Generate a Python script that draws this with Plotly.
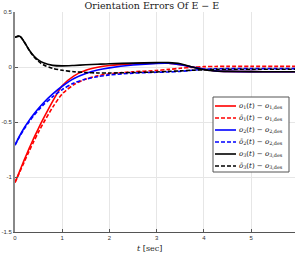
import plotly.graph_objects as go

t = [0, 0.1, 0.2, 0.3, 0.4, 0.5, 0.6, 0.8, 1.0, 1.25, 1.5, 1.75, 2.0, 2.5, 3.0, 3.25, 3.5, 3.75, 4.0, 4.25, 4.5, 5.0, 5.5, 6.0]

o1 = [-1.05, -0.945, -0.84, -0.74, -0.645, -0.555, -0.47, -0.31, -0.17, -0.08, -0.03, -0.003, 0.013, 0.028, 0.035, 0.034, 0.02, 0.0, -0.02, -0.035, -0.04, -0.042, -0.043, -0.043]
o1b = [-1.05, -0.955, -0.86, -0.765, -0.675, -0.59, -0.51, -0.365, -0.245, -0.16, -0.11, -0.08, -0.062, -0.044, -0.032, -0.022, -0.012, -0.003, 0.003, 0.005, 0.006, 0.006, 0.006, 0.006]
o2 = [-0.71, -0.625, -0.55, -0.485, -0.428, -0.375, -0.327, -0.245, -0.175, -0.105, -0.06, -0.028, -0.008, 0.018, 0.033, 0.034, 0.02, 0.0, -0.02, -0.035, -0.04, -0.042, -0.043, -0.043]
o2b = [-0.71, -0.63, -0.56, -0.497, -0.44, -0.39, -0.345, -0.27, -0.205, -0.145, -0.11, -0.088, -0.072, -0.056, -0.048, -0.045, -0.04, -0.03, -0.02, -0.016, -0.015, -0.015, -0.015, -0.015]
o3 = [0.27, 0.28, 0.225, 0.155, 0.10, 0.062, 0.038, 0.015, 0.01, 0.014, 0.02, 0.025, 0.03, 0.035, 0.04, 0.04, 0.03, 0.0, -0.025, -0.037, -0.04, -0.042, -0.043, -0.043]
o3b = [0.27, 0.28, 0.225, 0.152, 0.093, 0.05, 0.02, -0.012, -0.03, -0.043, -0.05, -0.054, -0.055, -0.05, -0.045, -0.04, -0.035, -0.03, -0.025, -0.021, -0.02, -0.02, -0.02, -0.02]

names = [
    "<i>o</i><sub>1</sub>(<i>t</i>) − <i>o</i><sub>1,des</sub>",
    "<i>ō</i><sub>1</sub>(<i>t</i>) − <i>o</i><sub>1,des</sub>",
    "<i>o</i><sub>2</sub>(<i>t</i>) − <i>o</i><sub>2,des</sub>",
    "<i>ō</i><sub>2</sub>(<i>t</i>) − <i>o</i><sub>2,des</sub>",
    "<i>o</i><sub>3</sub>(<i>t</i>) − <i>o</i><sub>3,des</sub>",
    "<i>ō</i><sub>3</sub>(<i>t</i>) − <i>o</i><sub>3,des</sub>",
]
series = [o1, o1b, o2, o2b, o3, o3b]
colors = ["#ff0000", "#ff0000", "#0000ff", "#0000ff", "#000000", "#000000"]
dashes = ["solid", "4px,2px", "solid", "4px,2px", "solid", "4px,2px"]

W, H = 295, 255
ML, MR, MT, MB = 15, 0, 12, 23
PW, PH = W - ML - MR, H - MT - MB

def px_x(p):
    return (p - ML) / PW

def px_y(p):
    return (H - MB - p) / PH

fig = go.Figure()
for y, n, c, d in zip(series, names, colors, dashes):
    fig.add_trace(go.Scatter(x=t, y=y, name=n, mode="lines", showlegend=False,
                             line=dict(color=c, dash=d, width=1.6, shape="spline", smoothing=0.8)))

# custom compact legend (box, line samples, labels)
shapes = [dict(type="rect", xref="paper", yref="paper",
               x0=px_x(213), x1=px_x(289), y0=px_y(172), y1=px_y(97),
               line=dict(color="#555", width=1), fillcolor="white", layer="above")]
annotations = []
row_y = [106, 118, 130, 142, 154, 166]
for ry, n, c, d in zip(row_y, names, colors, dashes):
    shapes.append(dict(type="line", xref="paper", yref="paper",
                       x0=px_x(215), x1=px_x(236), y0=px_y(ry), y1=px_y(ry),
                       line=dict(color=c, width=1.6, dash=d), layer="above"))
    annotations.append(dict(text=n, xref="paper", yref="paper",
                            x=px_x(237), y=px_y(ry), xanchor="left", yanchor="middle",
                            showarrow=False,
                            font=dict(family="DejaVu Serif", size=7, color="#111")))

annotations.append(dict(text="<i>t</i> [sec]", xref="paper", yref="paper",
                        x=0.48, y=px_y(248), xanchor="center", yanchor="middle",
                        showarrow=False,
                        font=dict(family="DejaVu Serif", size=8, color="#222")))

fig.update_layout(
    width=W, height=H,
    margin=dict(l=ML, r=MR, t=MT, b=MB),
    paper_bgcolor="white", plot_bgcolor="white",
    title=dict(text="Orientation Errors Of E − E", x=0.515, xanchor="center",
               y=0.99, yanchor="top",
               font=dict(family="DejaVu Serif", size=9.5, color="#222")),
    font=dict(family="Liberation Sans", size=6, color="#333"),
    showlegend=False,
    shapes=shapes,
    annotations=annotations,
)
fig.update_xaxes(range=[0, 5.93], tickvals=[0, 1, 2, 3, 4, 5],
                 showgrid=True, gridcolor="#e6e6e6", gridwidth=1,
                 showline=True, linecolor="#555", linewidth=1.2,
                 ticks="inside", ticklen=3, tickcolor="#555",
                 zeroline=False, automargin=False)
fig.update_yaxes(range=[-1.5, 0.5], tickvals=[-1.5, -1, -0.5, 0, 0.5],
                 ticktext=["-1.5", "-1", "-0.5", "0", "0.5"],
                 showgrid=True, gridcolor="#e6e6e6", gridwidth=1,
                 showline=True, linecolor="#888", linewidth=2,
                 ticks="inside", ticklen=3, tickcolor="#555",
                 zeroline=False, automargin=False)

fig.write_html("out.html", config={"displayModeBar": False},
               post_script="document.body.style.margin='0';")
